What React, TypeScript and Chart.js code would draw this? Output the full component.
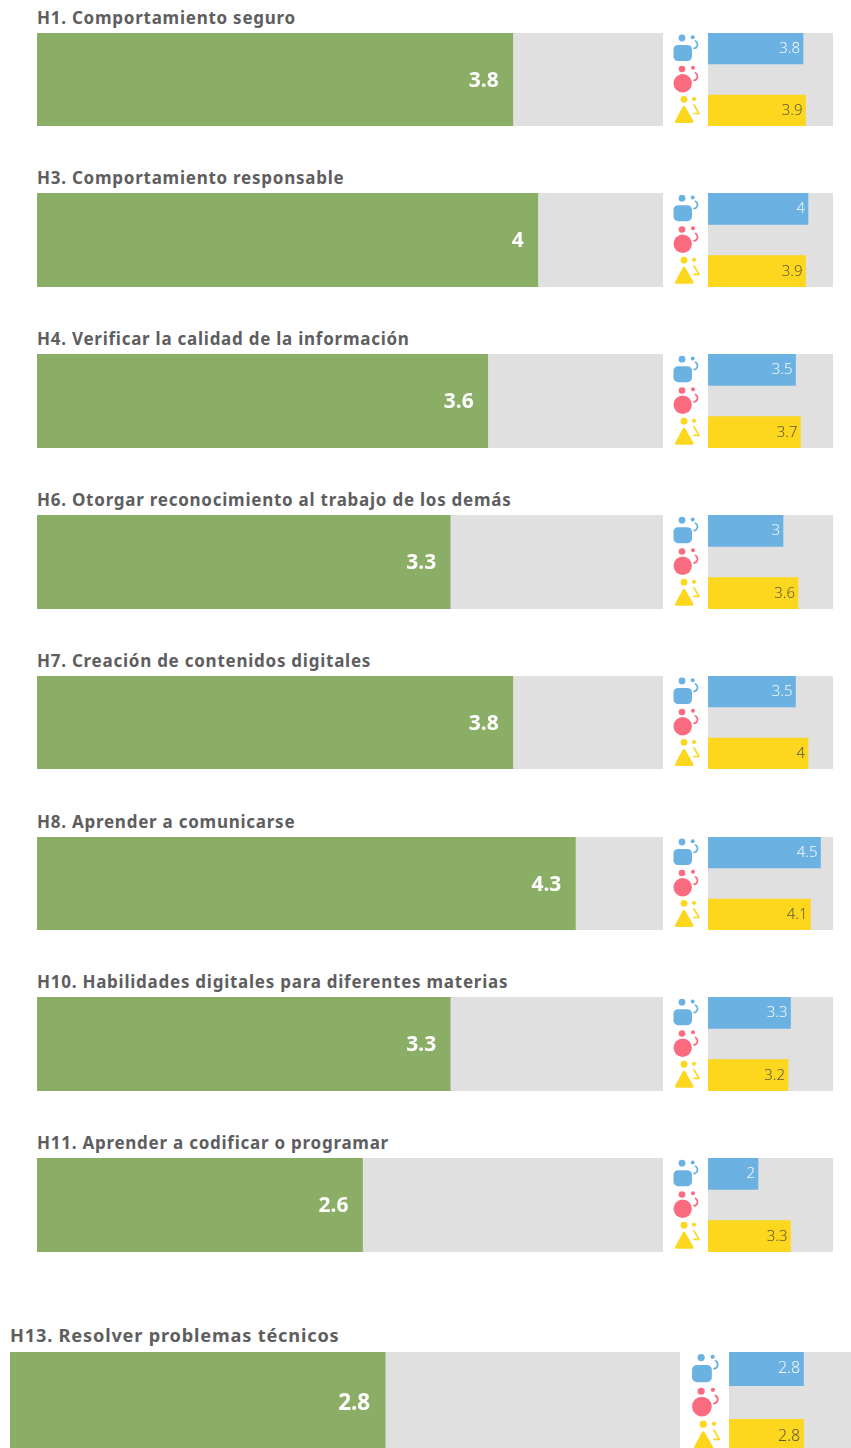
import React, { useEffect, useRef } from "react";
import { Chart, registerables } from "chart.js";

Chart.register(...registerables);

// ---- data ----
const titles = [
  "H1. Comportamiento seguro",
  "H3. Comportamiento responsable",
  "H4. Verificar la calidad de la información",
  "H6. Otorgar reconocimiento al trabajo de los demás",
  "H7. Creación de contenidos digitales",
  "H8. Aprender a comunicarse",
  "H10. Habilidades digitales para diferentes materias",
  "H11. Aprender a codificar o programar",
  "H13. Resolver problemas técnicos",
];
const overall = [3.8, 4, 3.6, 3.3, 3.8, 4.3, 3.3, 2.6, 2.8];
const boys = [3.8, 4, 3.5, 3, 3.5, 4.5, 3.3, 2, 2.8];
const girls = [3.9, 3.9, 3.7, 3.6, 4, 4.1, 3.2, 3.3, 2.8];
const groups = ["boys", "other", "girls"];
const scaleMax = 5;

// ---- layout ----
const panelTops = [33, 193, 354, 515, 676, 837, 997, 1158, 1352];
const panelHeights = [93, 94, 94, 94, 93, 93, 94, 94, 101];
const GREEN = "#8bae66";
const TRACK = "#e0e0e0";
const BLUE = "#6bb2e3";
const PINK = "#fb6b80";
const YELLOW = "#fcd71d";
const TITLE = "#5e5e60";
const FONT = '"Noto Sans", sans-serif';

function drawIcon(ctx: CanvasRenderingContext2D, x: number, y: number, k: number, row: number) {
  ctx.save();
  ctx.translate(x, y);
  ctx.scale(k, k);
  const dot = (cx: number, cy: number, r: number) => {
    ctx.beginPath();
    ctx.arc(cx, cy, r, 0, Math.PI * 2);
    ctx.fill();
  };
  const color = [BLUE, PINK, YELLOW][row];
  ctx.fillStyle = color;
  ctx.strokeStyle = color;
  ctx.lineCap = "round";
  if (row === 0) {
    ctx.beginPath();
    ctx.roundRect(-34.5, -3.5, 18.5, 16, 4.5);
    ctx.fill();
    dot(-26, -10.5, 3.4);
    dot(-15.3, -11.2, 2);
    ctx.lineWidth = 1.8;
    ctx.beginPath();
    ctx.arc(-14.5, -4, 4, -Math.PI / 3, Math.PI / 2.2);
    ctx.stroke();
  } else if (row === 1) {
    dot(-25.3, 3.8, 9.2);
    dot(-26, -10.5, 3.3);
    dot(-15, -11.8, 2);
    ctx.lineWidth = 1.8;
    ctx.beginPath();
    ctx.arc(-14.5, -3, 4, -Math.PI / 3, Math.PI / 2.2);
    ctx.stroke();
  } else {
    dot(-24, -11.2, 3.4);
    dot(-14, -11.5, 2);
    ctx.lineJoin = "round";
    ctx.lineWidth = 3;
    ctx.beginPath();
    ctx.moveTo(-24, -3);
    ctx.lineTo(-31.5, 11);
    ctx.lineTo(-16, 11);
    ctx.closePath();
    ctx.fill();
    ctx.stroke();
    ctx.lineWidth = 1.7;
    ctx.beginPath();
    ctx.moveTo(-14, -5.5);
    ctx.lineTo(-9, 3);
    ctx.lineTo(-14, 3);
    ctx.stroke();
  }
  ctx.restore();
}

function valueLabels(font: string, offset: number, dy: number, colors: string[]) {
  return {
    id: "valueLabels",
    afterDatasetsDraw(chart: any) {
      const { ctx } = chart;
      const meta = chart.getDatasetMeta(1);
      ctx.save();
      ctx.font = font;
      ctx.textAlign = "right";
      ctx.textBaseline = "middle";
      meta.data.forEach((bar: any, i: number) => {
        const v = chart.data.datasets[1].data[i];
        if (v == null) return;
        ctx.fillStyle = colors[i];
        ctx.fillText(String(v), bar.x - offset, bar.y + dy);
      });
      ctx.restore();
    },
  };
}

function baseOptions(paddingLeft: number) {
  return {
    indexAxis: "y" as const,
    responsive: false,
    animation: false as const,
    events: [],
    layout: { padding: { left: paddingLeft, right: 0, top: 0, bottom: 0 } },
    plugins: { legend: { display: false }, title: { display: false }, tooltip: { enabled: false } },
    scales: {
      x: { display: false, min: 0, max: scaleMax },
      y: { display: false },
    },
    datasets: { bar: { grouped: false, barPercentage: 1, categoryPercentage: 1, borderWidth: 0 } },
  };
}

function Panel({ index }: { index: number }) {
  const big = useRef<HTMLCanvasElement>(null);
  const small = useRef<HTMLCanvasElement>(null);
  const k = index === 8 ? 1.0715 : 1;
  const top = panelTops[index];
  const left = index === 8 ? 10 : 37;
  const mainW = 625.5 * k;
  const h = panelHeights[index];
  const rightBar = index === 8 ? 729 : 708;
  const rightW = 124.5 * k;
  const iconSpace = Math.round(36 * k);

  useEffect(() => {
    const c1 = new Chart(big.current!, {
      type: "bar",
      data: {
        labels: [titles[index]],
        datasets: [
          { data: [scaleMax], backgroundColor: TRACK, order: 2 },
          { data: [overall[index]], backgroundColor: GREEN, order: 1 },
        ],
      },
      options: baseOptions(0) as any,
      plugins: [valueLabels(`bold ${21 * k}px ${FONT}`, 14 * k, 1.5, ["#ffffff"])],
    });
    const c2 = new Chart(small.current!, {
      type: "bar",
      data: {
        labels: groups,
        datasets: [
          { data: [scaleMax, scaleMax, scaleMax], backgroundColor: TRACK, order: 2 },
          {
            data: [boys[index], null, girls[index]],
            backgroundColor: [BLUE, PINK, YELLOW],
            order: 1,
          },
        ],
      },
      options: baseOptions(iconSpace) as any,
      plugins: [
        valueLabels(`300 ${15 * k}px ${FONT}`, 3 * k, 0, ["#f4f9fd", "", "#5c5838"]),
        {
          id: "icons",
          afterDraw(chart: any) {
            const y = chart.scales.y;
            groups.forEach((_, i) => drawIcon(chart.ctx, chart.chartArea.left, y.getPixelForValue(i), k, i));
          },
        },
      ],
    });
    return () => {
      c1.destroy();
      c2.destroy();
    };
  }, []);

  return (
    <>
      <div
        style={{
          position: "absolute",
          left,
          top: top - 27 * k,
          height: 20 * k,
          lineHeight: `${20 * k}px`,
          font: `bold ${17 * k}px ${FONT}`,
          color: TITLE,
          whiteSpace: "nowrap",
          letterSpacing: 0.75 * k,
        }}
      >
        {titles[index]}
      </div>
      <canvas
        ref={big}
        width={Math.round(mainW)}
        height={h}
        style={{ position: "absolute", left, top, display: "block" }}
      />
      <canvas
        ref={small}
        width={Math.round(rightW + iconSpace)}
        height={h}
        style={{ position: "absolute", left: rightBar - iconSpace, top, display: "block" }}
      />
    </>
  );
}

export default function App() {
  return (
    <div
      style={{
        position: "absolute",
        left: 0,
        top: 0,
        width: 851,
        height: 1448,
        overflow: "hidden",
        background: "#ffffff",
        filter: "blur(0.4px)",
      }}
    >
      {titles.map((_, i) => (
        <Panel key={i} index={i} />
      ))}
    </div>
  );
}
